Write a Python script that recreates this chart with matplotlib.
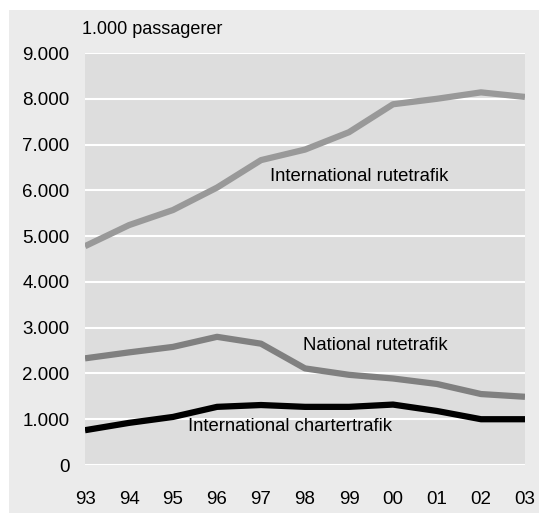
import matplotlib.pyplot as plt
from matplotlib.patches import Rectangle

# Data (1.000 passagerer)
years = [1993, 1994, 1995, 1996, 1997, 1998, 1999, 2000, 2001, 2002, 2003]
year_labels = ["93", "94", "95", "96", "97", "98", "99", "00", "01", "02", "03"]
intl_rute = [4780, 5240, 5570, 6060, 6660, 6890, 7270, 7880, 8000, 8140, 8040]
natl_rute = [2330, 2460, 2580, 2800, 2650, 2110, 1970, 1890, 1770, 1550, 1490]
intl_charter = [760, 920, 1050, 1270, 1310, 1270, 1270, 1320, 1180, 1000, 1000]
y_ticks = [0, 1000, 2000, 3000, 4000, 5000, 6000, 7000, 8000, 9000]
y_tick_labels = ["0", "1.000", "2.000", "3.000", "4.000", "5.000",
                 "6.000", "7.000", "8.000", "9.000"]

plt.rcParams['font.family'] = ['Liberation Sans', 'DejaVu Sans']

fig = plt.figure(figsize=(5.39, 5.13), dpi=100, facecolor="white")
# outer light gray panel
fig.patches.append(Rectangle((9 / 539, 0), 1 - 9 / 539, 503 / 513,
                             transform=fig.transFigure, facecolor="#ebebeb",
                             edgecolor="none", zorder=-10))

ax = fig.add_axes([85 / 539, 48 / 513, 440 / 539, 412 / 513])
ax.set_facecolor("#dddddd")

ax.plot(years, intl_rute, color="#999999", lw=4.5, solid_capstyle="butt", zorder=3)
ax.plot(years, natl_rute, color="#808080", lw=4.5, solid_capstyle="butt", zorder=3)
ax.plot(years, intl_charter, color="black", lw=4.5, solid_capstyle="butt", zorder=4)

ax.set_xlim(1993, 2003)
ax.set_ylim(0, 9000)
ax.set_xticks(years)
ax.set_xticklabels(year_labels)
ax.set_yticks(y_ticks)
ax.set_yticklabels(y_tick_labels)
ax.grid(axis="y", color="white", lw=1.5, zorder=1)
ax.set_axisbelow(True)
ax.tick_params(length=0, labelsize=13.5, colors="black")
ax.tick_params(axis="y", pad=11)
ax.tick_params(axis="x", pad=19)
for s in ax.spines.values():
    s.set_visible(False)

ax.text(1997.2, 6300, "International rutetrafik", fontsize=13.3, va="center")
ax.text(1997.95, 2620, "National rutetrafik", fontsize=13.3, va="center")
ax.text(1995.35, 850, "International chartertrafik", fontsize=13.3, va="center")
fig.text(82 / 539, 1 - 29 / 513, "1.000 passagerer", fontsize=13, va="center")

fig.savefig("out.png", dpi=100, facecolor="white")
